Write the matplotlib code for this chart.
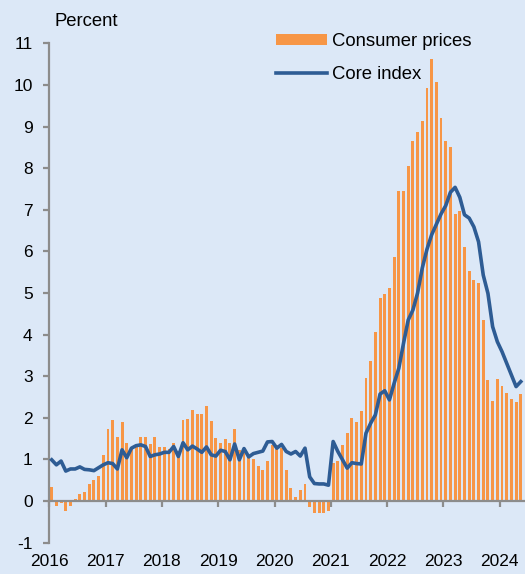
import numpy as np
import matplotlib.pyplot as plt
from matplotlib.lines import Line2D
from matplotlib.patches import Patch

plt.rcParams['font.family'] = ['Liberation Sans', 'DejaVu Sans']
plt.rcParams['axes.unicode_minus'] = False

years = ['2016', '2017', '2018', '2019', '2020', '2021', '2022', '2023', '2024']

# monthly, Jan 2016 - May 2024
consumer_prices = [
    0.33, -0.13, -0.05, -0.25, -0.12, 0.05, 0.17, 0.22, 0.40, 0.50, 0.59, 1.10,
    1.73, 1.95, 1.54, 1.90, 1.39, 1.30, 1.30, 1.55, 1.55, 1.37, 1.53, 1.29,
    1.31, 1.25, 1.40, 1.20, 1.95, 1.96, 2.19, 2.09, 2.09, 2.28, 1.92, 1.52,
    1.40, 1.49, 1.40, 1.73, 1.23, 1.15, 1.11, 1.00, 0.84, 0.75, 0.96, 1.34,
    1.35, 1.27, 0.75, 0.32, 0.09, 0.26, 0.40, -0.15, -0.30, -0.29, -0.28, -0.25,
    0.92, 0.95, 1.35, 1.63, 2.00, 1.90, 2.17, 2.96, 3.37, 4.06, 4.87, 4.97,
    5.11, 5.87, 7.44, 7.44, 8.05, 8.65, 8.86, 9.13, 9.92, 10.62, 10.06, 9.20,
    8.65, 8.51, 6.89, 6.97, 6.10, 5.53, 5.31, 5.25, 4.35, 2.91, 2.41, 2.93,
    2.77, 2.59, 2.44, 2.37, 2.57,
]
core_index = [
    0.99, 0.87, 0.96, 0.72, 0.77, 0.77, 0.82, 0.76, 0.75, 0.73, 0.80, 0.87,
    0.92, 0.90, 0.77, 1.23, 1.04, 1.27, 1.33, 1.35, 1.31, 1.07, 1.11, 1.13,
    1.17, 1.17, 1.31, 1.07, 1.40, 1.23, 1.32, 1.25, 1.17, 1.30, 1.11, 1.08,
    1.22, 1.19, 0.99, 1.37, 0.99, 1.26, 1.06, 1.14, 1.17, 1.20, 1.42, 1.43,
    1.27, 1.36, 1.19, 1.13, 1.19, 1.08, 1.27, 0.58, 0.42, 0.41, 0.41, 0.38,
    1.43, 1.19, 0.99, 0.79, 0.92, 0.90, 0.89, 1.63, 1.87, 2.07, 2.57, 2.65,
    2.43, 2.83, 3.19, 3.79, 4.35, 4.59, 5.00, 5.60, 6.05, 6.40, 6.65, 6.90,
    7.10, 7.42, 7.54, 7.30, 6.88, 6.80, 6.59, 6.23, 5.43, 4.99, 4.19, 3.83,
    3.59, 3.31, 3.03, 2.75, 2.87,
]

bg = '#dce8f7'
orange = '#f79646'
blue = '#2e5c94'
grey = '#8c8c8c'

fig = plt.figure(figsize=(5.25, 5.74), dpi=100, facecolor=bg)
ax = fig.add_axes([0.094, 0.0547, 0.906, 0.8697], facecolor=bg)

x = np.arange(len(consumer_prices)) + 0.5
ax.bar(x, consumer_prices, width=0.62, color=orange, zorder=2)
ax.plot(x, core_index, color=blue, lw=2.6, zorder=3, solid_joinstyle='round')

ax.set_xlim(0, 101.4)
ax.set_ylim(-1, 11)
ax.set_yticks(range(-1, 12))
ax.set_xticks(np.arange(len(years)) * 12)
ax.set_xticklabels(years)

for s in ['top', 'right']:
    ax.spines[s].set_visible(False)
ax.spines['left'].set_color(grey)
ax.spines['left'].set_linewidth(1.6)
ax.spines['bottom'].set_position(('data', 0))
ax.spines['bottom'].set_color(grey)
ax.spines['bottom'].set_linewidth(1.6)
ax.spines['bottom'].set_zorder(4)

ax.tick_params(axis='y', direction='out', length=4, width=1.6, color=grey,
               pad=8, labelsize=12.5)
ax.tick_params(axis='x', direction='out', length=4, width=1.6, color=grey,
               pad=34, labelsize=12.5)

fig.text(54 / 525, 1 - 22 / 574, 'Percent', fontsize=13.3, va='center', ha='left')

handles = [Patch(facecolor=orange, edgecolor='none'),
           Line2D([0], [0], color=blue, lw=2.6)]
ax.legend(handles, ['Consumer prices', 'Core index'], loc='upper left',
          bbox_to_anchor=(0.46, 1.036), frameon=False, fontsize=13.3,
          handlelength=2.8, handleheight=0.5, handletextpad=0.27,
          labelspacing=0.85, borderaxespad=0)

fig.savefig('out.png', dpi=100, facecolor=bg)
